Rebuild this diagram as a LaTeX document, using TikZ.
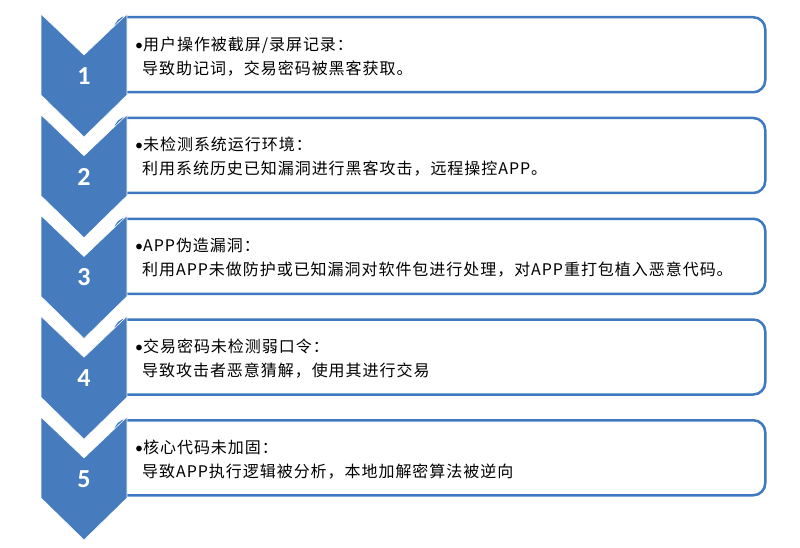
\documentclass[tikz,border=0pt]{standalone}
\usepackage{fontspec}
\setmainfont[LetterSpace=6]{Noto Sans CJK SC}
\newfontfamily\numfont{Carlito}
\usepackage{xcolor}
\usetikzlibrary{positioning}
\definecolor{chevblue}{RGB}{70,124,190}
\definecolor{boxblue}{RGB}{62,120,192}
\newcommand{\itembullet}{{\numfont •}}

\begin{document}
\begin{tikzpicture}[x=1pt, y=-1pt, every node/.style={inner sep=0pt}]
            \useasboundingbox (0,0) rectangle (800,548);
            \tikzset{
                itembox/.style={draw=boxblue, line width=2.5pt, fill=white, rounded corners=12pt,
                    minimum width=650pt, minimum height=75pt, anchor=north west},
                chevron/.style={fill=chevblue, draw=white, line width=0.6pt},
                stepnum/.style={text=white, font=\numfont\bfseries\fontsize{26}{26}\selectfont},
                itemtext/.style={align=left, anchor=west, font=\fontsize{16}{24}\selectfont}
            }
            % Steps: box first, chevron on top of its left end
            \foreach \n/\ta/\tb in {
                1/{用户操作被截屏/录屏记录：}/{导致助记词，交易密码被黑客获取。},
                2/{未检测系统运行环境：}/{利用系统历史已知漏洞进行黑客攻击，远程操控APP。},
                3/{APP伪造漏洞：}/{利用APP未做防护或已知漏洞对软件包进行处理，对APP重打包植入恶意代码。},
                4/{交易密码未检测弱口令：}/{导致攻击者恶意猜解，使用其进行交易},
                5/{核心代码未加固：}/{导致APP执行逻辑被分析，本地加解密算法被逆向}}
            {
                \pgfmathsetmacro{\t}{14+100.75*(\n-1)}
                \node[itembox] (box\n) at (114,\t+2) {};
                \node[itemtext] (txt\n) at ([xshift=21pt, yshift=-1.5pt]box\n.west) {\itembullet\ta\\\hspace*{7pt}\tb};
                % Chevron
                \draw[chevron] (41,\t) -- (84,\t+41) -- (127,\t) -- (127,\t+81) -- (84,\t+123) -- (41,\t+81) -- cycle;
                \node[stepnum] (num\n) at (84,\t+62) {\n};
            }
        \end{tikzpicture}
\end{document}
